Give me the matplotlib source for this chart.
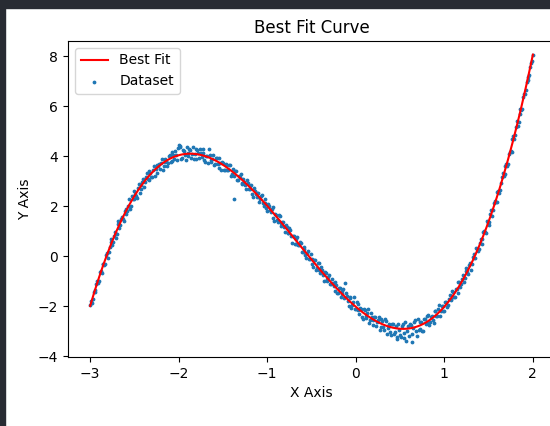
import matplotlib.pyplot as plt
import numpy as np

# scatter data (even x steps)
x_even = [
    -3.00, -2.98, -2.96, -2.94, -2.92, -2.90, -2.88, -2.86, -2.84, -2.82,
    -2.80, -2.78, -2.76, -2.74, -2.72, -2.70, -2.68, -2.66, -2.64, -2.62,
    -2.60, -2.58, -2.56, -2.54, -2.52, -2.50, -2.48, -2.46, -2.44, -2.42,
    -2.40, -2.38, -2.36, -2.34, -2.32, -2.30, -2.28, -2.26, -2.24, -2.22,
    -2.20, -2.18, -2.16, -2.14, -2.12, -2.10, -2.08, -2.06, -2.04, -2.02,
    -2.00, -1.98, -1.96, -1.94, -1.92, -1.90, -1.88, -1.86, -1.84, -1.82,
    -1.80, -1.78, -1.76, -1.74, -1.72, -1.70, -1.68, -1.66, -1.64, -1.62,
    -1.60, -1.58, -1.56, -1.54, -1.52, -1.50, -1.48, -1.46, -1.44, -1.42,
    -1.40, -1.38, -1.36, -1.34, -1.32, -1.30, -1.28, -1.26, -1.24, -1.22,
    -1.20, -1.18, -1.16, -1.14, -1.12, -1.10, -1.08, -1.06, -1.04, -1.02,
    -1.00, -0.98, -0.96, -0.94, -0.92, -0.90, -0.88, -0.86, -0.84, -0.82,
    -0.80, -0.78, -0.76, -0.74, -0.72, -0.70, -0.68, -0.66, -0.64, -0.62,
    -0.60, -0.58, -0.56, -0.54, -0.52, -0.50, -0.48, -0.46, -0.44, -0.42,
    -0.40, -0.38, -0.36, -0.34, -0.32, -0.30, -0.28, -0.26, -0.24, -0.22,
    -0.20, -0.18, -0.16, -0.14, -0.12, -0.10, -0.08, -0.06, -0.04, -0.02,
    0.00, 0.02, 0.04, 0.06, 0.08, 0.10, 0.12, 0.14, 0.16, 0.18,
    0.20, 0.22, 0.24, 0.26, 0.28, 0.30, 0.32, 0.34, 0.36, 0.38,
    0.40, 0.42, 0.44, 0.46, 0.48, 0.50, 0.52, 0.54, 0.56, 0.58,
    0.60, 0.62, 0.64, 0.66, 0.68, 0.70, 0.72, 0.74, 0.76, 0.78,
    0.80, 0.82, 0.84, 0.86, 0.88, 0.90, 0.92, 0.94, 0.96, 0.98,
    1.00, 1.02, 1.04, 1.06, 1.08, 1.10, 1.12, 1.14, 1.16, 1.18,
    1.20, 1.22, 1.24, 1.26, 1.28, 1.30, 1.32, 1.34, 1.36, 1.38,
    1.40, 1.42, 1.44, 1.46, 1.48, 1.50, 1.52, 1.54, 1.56, 1.58,
    1.60, 1.62, 1.64, 1.66, 1.68, 1.70, 1.72, 1.74, 1.76, 1.78,
    1.80, 1.82, 1.84, 1.86, 1.88, 1.90, 1.92, 1.94, 1.96, 1.98,
    2.00,
]
y_even = [
    -1.97, -1.87, -1.43, -1.37, -1.01, -1.01, -0.61, -0.30, -0.35, 0.04,
    -0.06, 0.38, 0.69, 0.58, 0.96, 0.89, 1.39, 1.26, 1.55, 1.39,
    1.89, 1.81, 2.28, 1.99, 2.30, 2.60, 2.39, 2.71, 2.52, 2.86,
    3.08, 2.96, 3.32, 3.03, 3.32, 3.16, 3.59, 3.48, 3.31, 3.69,
    3.71, 3.45, 3.88, 3.79, 3.71, 4.05, 3.82, 4.03, 4.22, 3.83,
    4.46, 4.36, 3.93, 4.19, 3.84, 4.12, 4.30, 3.94, 4.37, 4.08,
    3.87, 4.13, 4.29, 3.95, 4.12, 3.75, 4.02, 4.27, 3.78, 3.90,
    3.66, 3.91, 3.70, 3.91, 3.43, 3.72, 3.46, 3.70, 3.45, 3.65,
    3.30, 2.27, 3.40, 3.03, 3.20, 3.27, 2.92, 2.98, 2.68, 2.94,
    2.70, 2.84, 2.38, 2.61, 2.35, 2.54, 2.29, 2.44, 2.02, 2.14,
    1.82, 2.02, 1.77, 1.95, 1.42, 1.63, 1.38, 1.59, 1.31, 1.36,
    0.96, 1.15, 0.91, 1.05, 0.52, 0.79, 0.49, 0.76, 0.44, 0.51,
    0.17, 0.30, -0.06, 0.20, -0.10, -0.11, -0.43, -0.16, -0.46, -0.29,
    -0.66, -0.57, -0.98, -0.69, -0.91, -0.77, -1.13, -1.07, -1.38, -1.16,
    -1.48, -1.28, -1.53, -1.32, -1.06, -1.61, -1.99, -1.67, -1.96, -1.63,
    -2.13, -1.90, -2.31, -2.12, -2.50, -2.17, -2.40, -2.13, -2.57, -2.44,
    -2.74, -2.43, -2.63, -2.43, -2.82, -2.61, -2.97, -2.60, -2.87, -2.75,
    -3.14, -2.73, -3.02, -3.23, -2.71, -3.15, -2.81, -3.28, -2.65, -3.00,
    -3.20, -2.76, -3.43, -2.63, -3.01, -2.50, -2.91, -2.64, -2.98, -2.51,
    -2.69, -2.35, -2.65, -2.40, -2.66, -2.19, -2.39, -1.97, -2.18, -1.98,
    -2.20, -1.85, -1.97, -1.55, -1.71, -1.43, -1.63, -1.30, -1.02, -1.22,
    -0.92, -1.02, -0.47, -0.64, -0.36, -0.54, -0.03, -0.09, 0.32, 0.20,
    0.51, 0.47, 0.95, 0.95, 1.40, 1.24, 1.67, 1.59, 2.13, 2.18,
    2.58, 2.53, 2.93, 3.34, 3.27, 3.70, 3.69, 4.18, 4.15, 4.79,
    4.86, 5.40, 5.36, 5.87, 5.89, 6.50, 6.63, 7.18, 7.24, 7.72,
    8.03,
]

# scatter data (odd x steps)
x_odd = [
    -2.99, -2.97, -2.95, -2.93, -2.91, -2.89, -2.87, -2.85, -2.83, -2.81,
    -2.79, -2.77, -2.75, -2.73, -2.71, -2.69, -2.67, -2.65, -2.63, -2.61,
    -2.59, -2.57, -2.55, -2.53, -2.51, -2.49, -2.47, -2.45, -2.43, -2.41,
    -2.39, -2.37, -2.35, -2.33, -2.31, -2.29, -2.27, -2.25, -2.23, -2.21,
    -2.19, -2.17, -2.15, -2.13, -2.11, -2.09, -2.07, -2.05, -2.03, -2.01,
    -1.99, -1.97, -1.95, -1.93, -1.91, -1.89, -1.87, -1.85, -1.83, -1.81,
    -1.79, -1.77, -1.75, -1.73, -1.71, -1.69, -1.67, -1.65, -1.63, -1.61,
    -1.59, -1.57, -1.55, -1.53, -1.51, -1.49, -1.47, -1.45, -1.43, -1.41,
    -1.39, -1.37, -1.35, -1.33, -1.31, -1.29, -1.27, -1.25, -1.23, -1.21,
    -1.19, -1.17, -1.15, -1.13, -1.11, -1.09, -1.07, -1.05, -1.03, -1.01,
    -0.99, -0.97, -0.95, -0.93, -0.91, -0.89, -0.87, -0.85, -0.83, -0.81,
    -0.79, -0.77, -0.75, -0.73, -0.71, -0.69, -0.67, -0.65, -0.63, -0.61,
    -0.59, -0.57, -0.55, -0.53, -0.51, -0.49, -0.47, -0.45, -0.43, -0.41,
    -0.39, -0.37, -0.35, -0.33, -0.31, -0.29, -0.27, -0.25, -0.23, -0.21,
    -0.19, -0.17, -0.15, -0.13, -0.11, -0.09, -0.07, -0.05, -0.03, -0.01,
    0.01, 0.03, 0.05, 0.07, 0.09, 0.11, 0.13, 0.15, 0.17, 0.19,
    0.21, 0.23, 0.25, 0.27, 0.29, 0.31, 0.33, 0.35, 0.37, 0.39,
    0.41, 0.43, 0.45, 0.47, 0.49, 0.51, 0.53, 0.55, 0.57, 0.59,
    0.61, 0.63, 0.65, 0.67, 0.69, 0.71, 0.73, 0.75, 0.77, 0.79,
    0.81, 0.83, 0.85, 0.87, 0.89, 0.91, 0.93, 0.95, 0.97, 0.99,
    1.01, 1.03, 1.05, 1.07, 1.09, 1.11, 1.13, 1.15, 1.17, 1.19,
    1.21, 1.23, 1.25, 1.27, 1.29, 1.31, 1.33, 1.35, 1.37, 1.39,
    1.41, 1.43, 1.45, 1.47, 1.49, 1.51, 1.53, 1.55, 1.57, 1.59,
    1.61, 1.63, 1.65, 1.67, 1.69, 1.71, 1.73, 1.75, 1.77, 1.79,
    1.81, 1.83, 1.85, 1.87, 1.89, 1.91, 1.93, 1.95, 1.97, 1.99,
]
y_odd = [
    -1.81, -1.72, -1.42, -1.10, -1.07, -0.64, -0.67, -0.32, -0.32, 0.12,
    0.17, 0.55, 0.44, 0.81, 0.73, 1.27, 1.14, 1.48, 1.50, 1.81,
    1.69, 2.02, 1.89, 2.41, 2.27, 2.48, 2.34, 2.88, 2.67, 2.96,
    2.78, 3.15, 3.07, 3.39, 3.16, 3.45, 3.21, 3.64, 3.60, 3.47,
    3.88, 3.62, 3.78, 3.61, 3.99, 3.76, 4.16, 3.89, 4.05, 4.32,
    4.39, 3.89, 4.24, 4.06, 4.35, 3.99, 4.24, 4.08, 3.90, 4.30,
    4.24, 3.93, 4.13, 4.30, 3.84, 4.02, 3.74, 4.05, 3.85, 4.05,
    3.70, 3.92, 3.52, 3.74, 3.77, 3.45, 3.63, 3.45, 3.63, 3.20,
    3.47, 3.20, 3.42, 3.04, 3.15, 2.88, 3.08, 2.86, 3.05, 2.67,
    2.81, 2.50, 2.74, 2.47, 2.51, 2.16, 2.39, 2.11, 2.28, 1.94,
    2.10, 1.83, 1.89, 1.51, 1.67, 1.44, 1.64, 1.22, 1.37, 1.17,
    1.23, 0.91, 1.14, 0.80, 0.80, 0.48, 0.67, 0.43, 0.58, 0.18,
    0.38, 0.03, 0.14, -0.10, 0.10, -0.31, -0.16, -0.54, -0.29, -0.56,
    -0.43, -0.75, -0.65, -1.00, -0.84, -1.11, -0.92, -1.19, -1.02, -1.47,
    -1.28, -1.63, -1.40, -1.67, -1.49, -1.81, -1.63, -2.06, -1.85, -2.10,
    -1.85, -2.17, -2.07, -2.44, -2.13, -2.47, -2.27, -2.69, -2.29, -2.55,
    -2.43, -2.78, -2.57, -2.97, -2.51, -2.85, -2.53, -3.12, -2.72, -3.02,
    -2.70, -3.10, -2.81, -3.31, -2.97, -3.22, -2.71, -3.07, -3.39, -2.79,
    -2.73, -3.12, -2.89, -2.56, -3.19, -2.94, -2.64, -3.01, -2.51, -2.71,
    -2.41, -2.74, -2.43, -2.55, -2.18, -2.41, -2.11, -2.38, -2.01, -2.19,
    -1.85, -2.04, -1.72, -1.77, -1.40, -1.62, -1.30, -1.46, -1.02, -1.10,
    -0.77, -0.89, -0.59, -0.70, -0.27, -0.32, 0.10, -0.07, 0.28, 0.29,
    0.70, 0.68, 1.02, 0.93, 1.32, 1.38, 1.86, 1.85, 2.19, 2.15,
    2.60, 2.63, 3.18, 3.20, 3.59, 3.61, 4.09, 4.19, 4.68, 4.69,
    5.15, 5.22, 5.70, 5.86, 6.37, 6.48, 6.98, 7.04, 7.58, 7.80,
]

x = np.array(x_even + x_odd)
y = np.array(y_even + y_odd)
order = np.argsort(x)
x, y = x[order], y[order]

# cubic best fit through the dataset
coef = np.polyfit(x, y, 3)
y_fit = np.polyval(coef, x)

fig = plt.figure(figsize=(5.5, 4.26), dpi=100)

# dark notebook frame round the output
fig.patches.append(plt.Rectangle((0, 418 / 426), 1, 8 / 426, transform=fig.transFigure,
                                 color="#282b33", zorder=0))
fig.patches.append(plt.Rectangle((0, 0), 5 / 550, 1, transform=fig.transFigure,
                                 color="#282b33", zorder=0))

ax = fig.add_axes([68 / 550, 69 / 426, 487 / 550, 316 / 426])

ax.plot(x, y_fit, color="red", label="Best Fit")
ax.scatter(x, y, s=3, label="Dataset")

ax.set_xlim(-3.25, 2.25)
ax.set_ylim(-4.04, 8.6)
ax.set_title("Best Fit Curve")
ax.set_xlabel("X Axis")
ax.set_ylabel("Y Axis")
ax.legend(loc="upper left")

plt.savefig("out.png", dpi=100)
